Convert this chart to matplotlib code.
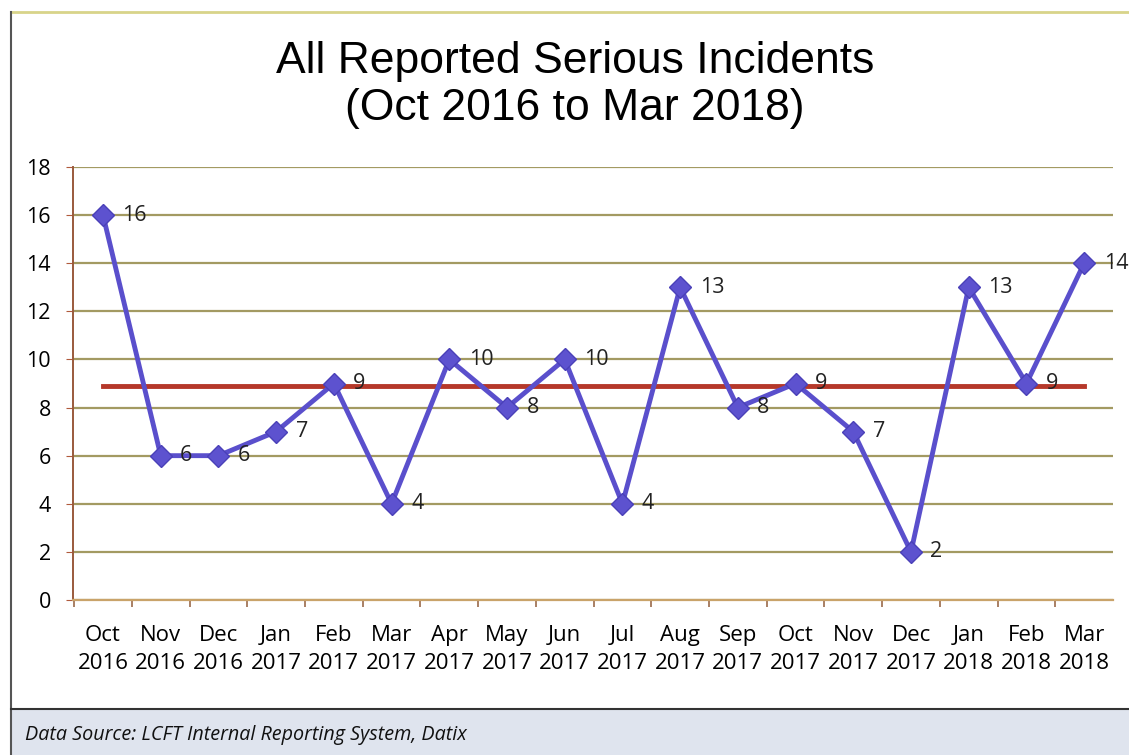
import matplotlib.pyplot as plt
import matplotlib.patches as mpatches
from matplotlib.lines import Line2D
import numpy as np

months = ['Oct', 'Nov', 'Dec', 'Jan', 'Feb', 'Mar', 'Apr', 'May', 'Jun',
          'Jul', 'Aug', 'Sep', 'Oct', 'Nov', 'Dec', 'Jan', 'Feb', 'Mar']
years = ['2016', '2016', '2016', '2017', '2017', '2017', '2017', '2017', '2017',
         '2017', '2017', '2017', '2017', '2017', '2017', '2018', '2018', '2018']
incidents = [16, 6, 6, 7, 9, 4, 10, 8, 10, 4, 13, 8, 9, 7, 2, 13, 9, 14]
average = 8.9

labels = ['%s\n%s' % (m, y) for m, y in zip(months, years)]
x = np.arange(len(incidents))

fig = plt.figure(figsize=(11.29, 7.55), dpi=100)
fig.patch.set_facecolor('white')

# page frame and footer band
fig.add_artist(Line2D([12 / 1129, 1], [1 - 12 / 755, 1 - 12 / 755],
                      color='#d8d48a', lw=2))
fig.add_artist(Line2D([11 / 1129, 11 / 1129], [0, 1 - 12 / 755],
                      color='#555555', lw=1.5))
fig.add_artist(mpatches.Rectangle((11 / 1129, 0), 1, 46 / 755,
                                  facecolor='#dfe4ee', edgecolor='none'))
fig.add_artist(Line2D([11 / 1129, 1], [46 / 755, 46 / 755],
                      color='#333333', lw=1.5))
fig.text(25 / 1129, 20 / 755, 'Data Source: LCFT Internal Reporting System, Datix',
         fontsize=14.2, style='italic', family='Open Sans', va='center',
         color='#111111')

fig.text(575 / 1129, 1 - 85 / 755,
         'All Reported Serious Incidents\n(Oct 2016 to Mar 2018)',
         ha='center', va='center', fontsize=32, family='Liberation Sans',
         linespacing=1.18)

ax = fig.add_axes([73 / 1129, 1 - 600 / 755, 1040 / 1129, 433 / 755])
ax.set_xlim(-0.52, 17.5)
ax.set_ylim(0, 18)

ax.set_yticks(range(0, 19, 2))
ax.yaxis.grid(True, color='#a39a62', lw=1.6)
ax.set_axisbelow(True)
for s in ['top', 'right']:
    ax.spines[s].set_visible(False)
ax.spines['left'].set_color('#9a5a3c')
ax.spines['bottom'].set_color('#c9a36a')
ax.spines['left'].set_linewidth(1.4)
ax.spines['bottom'].set_linewidth(1.6)

ax.set_xticks(x - 0.5, minor=False)
ax.set_xticklabels([])
ax.set_xticks(x, minor=True)
ax.set_xticklabels(labels, minor=True, fontsize=16, family='Open Sans',
                   linespacing=1.45)
ax.tick_params(axis='x', which='major', length=5, color='#9a6a4a', width=1.2)
ax.tick_params(axis='x', which='minor', length=0, pad=18)
ax.tick_params(axis='y', length=5, color='#b05a3c', labelsize=15.5, pad=11)
for t in ax.get_yticklabels():
    t.set_family('Open Sans')

ax.plot([x[0], x[-1]], [average, average], color='#b5382a', lw=3.5, zorder=3)
ax.plot(x, incidents, color='#5a4fcc', lw=3.5, marker='D', markersize=11,
        markerfacecolor='#5d52cf', markeredgecolor='#4a40b8', zorder=4)

for xi, v in zip(x, incidents):
    ax.annotate(str(v), (xi, v), xytext=(14, 0), textcoords='offset points',
                va='center', ha='left', fontsize=15.5, family='Open Sans',
                color='#222222', zorder=5, annotation_clip=False)

fig.savefig('out.png', dpi=100)
